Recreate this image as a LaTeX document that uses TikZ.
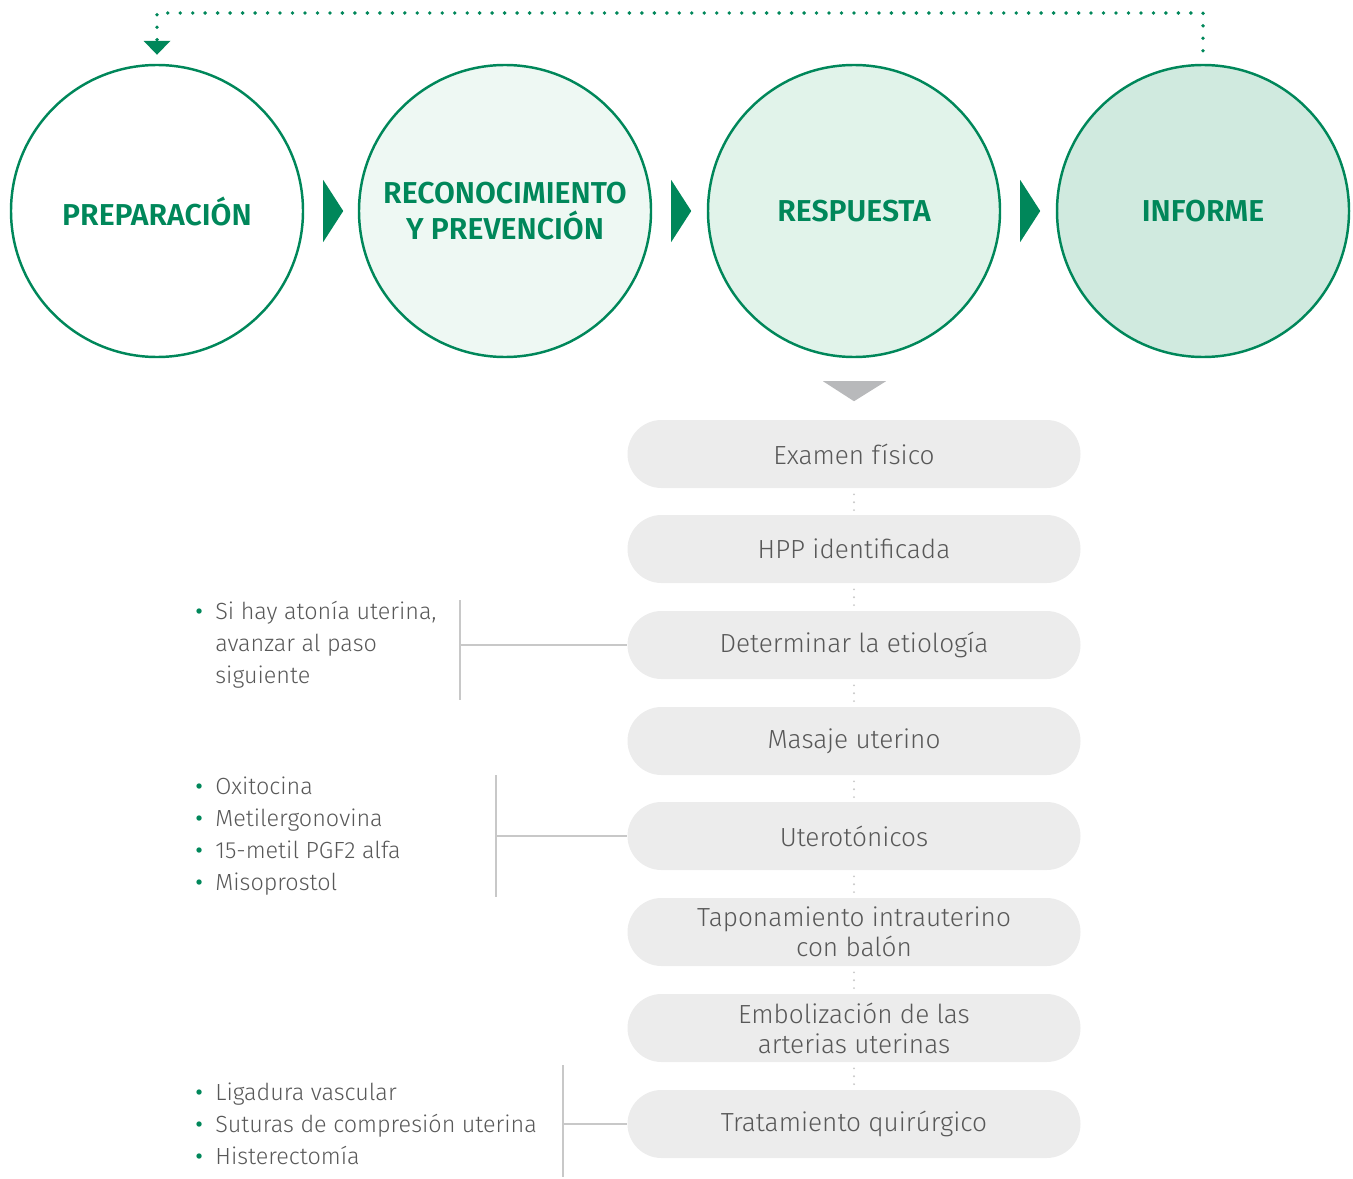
\documentclass[tikz,border=0pt]{standalone}
\usepackage{fontspec}
\setmainfont{Fira Sans}
\newfontfamily\lightfont{Fira Sans Light}
\newfontfamily\headfont{Fira Sans SemiBold}
\usetikzlibrary{arrows.meta}

\definecolor{hppgreen}{RGB}{0,135,90}
\definecolor{phasetwo}{RGB}{238,248,243}
\definecolor{phasethree}{RGB}{225,243,234}
\definecolor{phasefour}{RGB}{208,234,223}
\definecolor{pillgray}{RGB}{236,236,236}
\definecolor{textgray}{RGB}{88,88,88}
\definecolor{linegray}{RGB}{200,200,200}
\definecolor{arrowgray}{RGB}{184,185,187}

\newcommand{\bitem}[1]{\llap{\textcolor{hppgreen}{\normalfont\textbullet}\hspace{7pt}}#1}

\begin{document}
\begin{tikzpicture}[x=0.2mm,y=-0.2mm,
    phase/.style={circle,draw=hppgreen,line width=1.4pt,minimum size=5.84cm,
      inner sep=0pt,align=center,text=hppgreen,
      font=\headfont\fontsize{17.2}{20}\selectfont},
    pill/.style={rectangle,rounded corners=0.68cm,fill=pillgray,
      minimum width=9.06cm,minimum height=1.36cm,inner sep=0pt,align=center,
      text=textgray,font=\lightfont\fontsize{14.9}{17}\selectfont},
    pilllink/.style={draw=linegray,line width=1.2pt,line cap=round,
      dash pattern=on 0pt off 4.5pt,shorten <=0.12cm,shorten >=0.08cm},
    feedback/.style={draw=hppgreen,line width=2.2pt,line cap=round,
      dash pattern=on 0pt off 7.1pt,shorten <=0.26cm,shorten >=0.18cm,
      -{Triangle[width=0.54cm,length=0.28cm,line width=0pt]}},
    note/.style={anchor=west,align=left,inner sep=0pt,text=textgray,
      font=\lightfont\fontsize{13.3}{18.2}\selectfont},
    bracket/.style={draw=linegray,line width=0.8pt}]

    \useasboundingbox (0,0) rectangle (1353,1178);

    \node[phase] (prep) at (157,211) {PREPARACIÓN};
    \node[phase,fill=phasetwo] (recon) at (505,211) {RECONOCIMIENTO\\Y PREVENCIÓN};
    \node[phase,fill=phasethree] (resp) at (854,211) {RESPUESTA};
    \node[phase,fill=phasefour] (inf) at (1203,211) {INFORME};

    \fill[hppgreen] (prep.east) ++(19,-31) -- ++(20,31) -- ++(-20,31) -- cycle;
    \fill[hppgreen] (recon.east) ++(19,-31) -- ++(20,31) -- ++(-20,31) -- cycle;
    \fill[hppgreen] (resp.east) ++(19,-31) -- ++(20,31) -- ++(-20,31) -- cycle;

    \coordinate (looptop) at (157,13);
    \draw[feedback] (inf.north) |- (looptop) -- (prep.north);

    \fill[arrowgray] (resp.south) ++(-31,23) -- ++(63,0) -- ++(-32,20) -- cycle;

    \node[pill] (exam) at (854,454) {Examen físico};
    \node[pill] (hpp) at (854,549) {HPP identificada};
    \node[pill] (etio) at (854,645) {Determinar la etiología};
    \node[pill] (masaje) at (854,741) {Masaje uterino};
    \node[pill] (utero) at (854,836) {Uterotónicos};
    \node[pill] (balon) at (854,932) {Taponamiento intrauterino\\con balón};
    \node[pill] (embol) at (854,1028) {Embolización de las\\arterias uterinas};
    \node[pill] (cirug) at (854,1124) {Tratamiento quirúrgico};

    \foreach \a/\b in {exam/hpp,hpp/etio,etio/masaje,masaje/utero,
      utero/balon,balon/embol,embol/cirug}
      \draw[pilllink] (\a.south) -- (\b.north);

    \node[note] (atonia) at (215,645)
      {\bitem{Si hay atonía uterina,}\\avanzar al paso\\siguiente};
    \node[note] (drogas) at (215,836)
      {\bitem{Oxitocina}\\\bitem{Metilergonovina}\\\bitem{15-metil PGF2 alfa}\\\bitem{Misoprostol}};
    \node[note] (quirur) at (215,1124)
      {\bitem{Ligadura vascular}\\\bitem{Suturas de compresión uterina}\\\bitem{Histerectomía}};

    \coordinate (brk1) at (460,645);
    \draw[bracket] (brk1) ++(0,-45) -- ++(0,100);
    \draw[bracket] (brk1) -- (etio.west);

    \coordinate (brk2) at (496,836);
    \draw[bracket] (brk2) ++(0,-61) -- ++(0,122);
    \draw[bracket] (brk2) -- (utero.west);

    \coordinate (brk3) at (563,1124);
    \draw[bracket] (brk3) ++(0,-59) -- ++(0,112);
    \draw[bracket] (brk3) -- (cirug.west);

  \end{tikzpicture}
\end{document}
